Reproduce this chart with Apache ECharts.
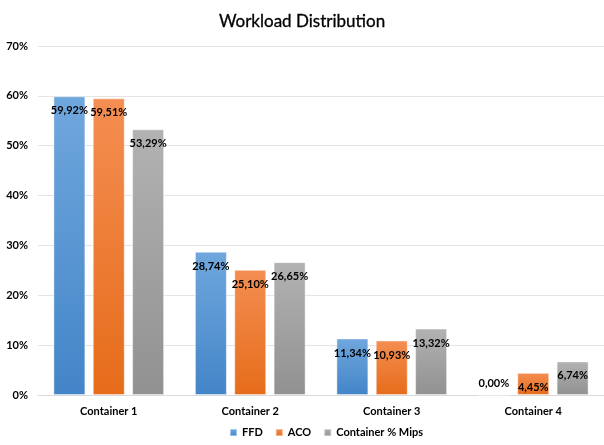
<!DOCTYPE html>
<html>
<head>
<meta charset="utf-8">
<script src="https://cdn.jsdelivr.net/npm/echarts@6/dist/echarts.min.js"></script>
<style>
  html, body { margin: 0; padding: 0; background: #fff; }
  #chart { width: 604px; height: 445px; }
</style>
</head>
<body>
<div id="chart"></div>
<script>
// Workload share per container, in percent
const categories = ['Container 1', 'Container 2', 'Container 3', 'Container 4'];
const ffd = [59.92, 28.74, 11.34, 0.00];
const aco = [59.51, 25.10, 10.93, 4.45];
const mips = [53.29, 26.65, 13.32, 6.74];
const yTicks = [0, 10, 20, 30, 40, 50, 60, 70];

const FONT = 'Lato, "Liberation Sans", sans-serif';

function fmt(v) {
  return v.toFixed(2).replace('.', ',') + '%';
}

function grad(top, bottom) {
  return new echarts.graphic.LinearGradient(0, 0, 0, 1, [
    { offset: 0, color: top },
    { offset: 1, color: bottom }
  ]);
}

const valueLabel = {
  show: true,
  position: 'insideTop',
  distance: 9,
  color: '#000',
  fontFamily: FONT,
  fontWeight: 'bold',
  fontSize: 11,
  formatter: p => fmt(p.value)
};

// zero-height bars get their label above the baseline
function toData(arr) {
  return arr.map(v => v === 0
    ? { value: v, label: { position: 'top', distance: 6 } }
    : v);
}

function series(name, arr, top, bottom) {
  return {
    name: name,
    type: 'bar',
    data: toData(arr),
    barWidth: 32,
    barGap: '23%',
    itemStyle: {
      color: grad(top, bottom),
      borderColor: 'rgba(255,255,255,0.45)',
      borderWidth: 1
    },
    label: valueLabel
  };
}

const chart = echarts.init(document.getElementById('chart'), null, { renderer: 'canvas' });
chart.setOption({
  animation: false,
  backgroundColor: '#fff',
  title: {
    text: 'Workload Distribution',
    left: 'center',
    top: 8,
    textStyle: { fontFamily: FONT, fontWeight: 'normal', fontSize: 17, color: '#000',
                 textBorderColor: '#000', textBorderWidth: 0.3 }
  },
  legend: {
    bottom: 2,
    left: 224,
    itemWidth: 7,
    itemHeight: 7,
    itemGap: 12,
    icon: 'rect',
    textStyle: { fontFamily: FONT, fontWeight: 'bold', fontSize: 11, color: '#000' },
    data: ['FFD', 'ACO', 'Container % Mips']
  },
  grid: { left: 38, top: 46, width: 572, height: 349, containLabel: false },
  xAxis: {
    type: 'category',
    data: categories,
    axisLine: { lineStyle: { color: '#d9d9d9' } },
    axisTick: { show: false },
    axisLabel: { fontFamily: FONT, fontWeight: 'bold', fontSize: 11, color: '#000', margin: 11 }
  },
  yAxis: {
    type: 'value',
    min: yTicks[0],
    max: yTicks[yTicks.length - 1],
    interval: 10,
    axisLine: { show: false },
    axisTick: { show: false },
    splitLine: { lineStyle: { color: '#e4e4e4' } },
    axisLabel: {
      fontFamily: FONT, fontWeight: 'bold', fontSize: 11, color: '#000', margin: 10,
      formatter: v => v + '%'
    }
  },
  series: [
    series('FFD', ffd, '#70a7dd', '#4385c8'),
    series('ACO', aco, '#f48e52', '#e66c1a'),
    series('Container % Mips', mips, '#b2b2b2', '#919191')
  ]
});
</script>
</body>
</html>
